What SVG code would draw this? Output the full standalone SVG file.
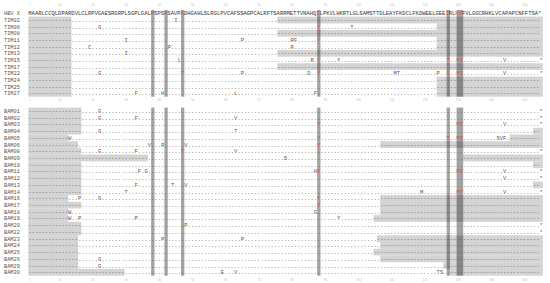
<svg xmlns="http://www.w3.org/2000/svg" width="550" height="283" viewBox="0 0 550 283">
<style>
.s{font-family:"Liberation Mono","DejaVu Sans Mono",monospace;font-size:5.53px;fill:#555}
.h{font-family:"Liberation Mono","DejaVu Sans Mono",monospace;font-size:5.53px;fill:#333}
.l{font-family:"Liberation Mono","DejaVu Sans Mono",monospace;font-size:5.3px;fill:#555}
.r{fill:#e0403c}
.t{font-family:"Liberation Sans",Arial,sans-serif;font-size:3px;fill:#bbb;text-anchor:middle}
.g{fill:#d4d4d4}
.b{fill:#000;fill-opacity:0.36}
</style>
<rect width="550" height="283" fill="#fff"/>
<g id="ticks">
<text class="t" y="6"><tspan x="29.96">1</tspan><tspan x="59.84">10</tspan><tspan x="93.04">20</tspan><tspan x="126.24">30</tspan><tspan x="159.44">40</tspan><tspan x="192.64">50</tspan><tspan x="225.84">60</tspan><tspan x="259.04">70</tspan><tspan x="292.24">80</tspan><tspan x="325.44">90</tspan><tspan x="358.64">100</tspan><tspan x="391.84">110</tspan><tspan x="425.04">120</tspan><tspan x="458.24">130</tspan><tspan x="491.44">140</tspan><tspan x="524.64">150</tspan></text>
<text class="t" y="100.5"><tspan x="29.96">1</tspan><tspan x="59.84">10</tspan><tspan x="93.04">20</tspan><tspan x="126.24">30</tspan><tspan x="159.44">40</tspan><tspan x="192.64">50</tspan><tspan x="225.84">60</tspan><tspan x="259.04">70</tspan><tspan x="292.24">80</tspan><tspan x="325.44">90</tspan><tspan x="358.64">100</tspan><tspan x="391.84">110</tspan><tspan x="425.04">120</tspan><tspan x="458.24">130</tspan><tspan x="491.44">140</tspan><tspan x="524.64">150</tspan></text>
<text class="t" y="280.5"><tspan x="29.96">1</tspan><tspan x="59.84">10</tspan><tspan x="93.04">20</tspan><tspan x="126.24">30</tspan><tspan x="159.44">40</tspan><tspan x="192.64">50</tspan><tspan x="225.84">60</tspan><tspan x="259.04">70</tspan><tspan x="292.24">80</tspan><tspan x="325.44">90</tspan><tspan x="358.64">100</tspan><tspan x="391.84">110</tspan><tspan x="425.04">120</tspan><tspan x="458.24">130</tspan><tspan x="491.44">140</tspan><tspan x="524.64">150</tspan></text>
</g>
<g id="gaps">
<rect class="g" x="28.3" y="16.6" width="43.16" height="80.1"/>
<rect class="g" x="277.3" y="16.6" width="265.6" height="6.8"/>
<rect class="g" x="436.66" y="23.2" width="106.24" height="6.8"/>
<rect class="g" x="277.3" y="29.9" width="265.6" height="6.8"/>
<rect class="g" x="436.66" y="36.6" width="106.24" height="6.8"/>
<rect class="g" x="436.66" y="43.2" width="106.24" height="6.8"/>
<rect class="g" x="277.3" y="49.9" width="265.6" height="6.8"/>
<rect class="g" x="277.3" y="63.2" width="265.6" height="6.8"/>
<rect class="g" x="436.66" y="76.6" width="106.24" height="20.1"/>
<rect class="g" x="28.3" y="107.6" width="53.12" height="27"/>
<rect class="g" x="28.3" y="134.5" width="39.84" height="6.8"/>
<rect class="g" x="28.3" y="141.2" width="49.8" height="6.8"/>
<rect class="g" x="28.3" y="147.9" width="53.12" height="6.8"/>
<rect class="g" x="28.3" y="154.6" width="119.52" height="6.8"/>
<rect class="g" x="28.3" y="161.4" width="53.12" height="33.7"/>
<rect class="g" x="28.3" y="195.0" width="39.84" height="6.8"/>
<rect class="g" x="28.3" y="201.7" width="53.12" height="6.8"/>
<rect class="g" x="28.3" y="208.4" width="39.84" height="13.5"/>
<rect class="g" x="28.3" y="221.8" width="53.12" height="13.6"/>
<rect class="g" x="28.3" y="235.3" width="49.8" height="33.7"/>
<rect class="g" x="28.3" y="268.9" width="96.28" height="6.8"/>
<rect class="g" x="532.94" y="127.8" width="9.96" height="6.8"/>
<rect class="g" x="509.7" y="134.5" width="33.2" height="6.8"/>
<rect class="g" x="380.22" y="141.2" width="162.68" height="6.8"/>
<rect class="g" x="463.22" y="154.6" width="79.68" height="6.8"/>
<rect class="g" x="532.94" y="161.4" width="9.96" height="6.8"/>
<rect class="g" x="532.94" y="181.5" width="9.96" height="6.8"/>
<rect class="g" x="380.22" y="195.0" width="162.68" height="20.2"/>
<rect class="g" x="373.58" y="215.1" width="169.32" height="6.8"/>
<rect class="g" x="376.9" y="235.3" width="166.0" height="6.8"/>
<rect class="g" x="380.22" y="242.0" width="162.68" height="6.8"/>
<rect class="g" x="373.58" y="248.7" width="169.32" height="6.8"/>
<rect class="g" x="380.22" y="255.4" width="162.68" height="6.8"/>
<rect class="g" x="443.3" y="262.2" width="99.6" height="6.8"/>
<rect class="g" x="449.94" y="268.9" width="92.96" height="6.8"/>
</g>
<g id="columns">
<rect class="b" x="151.14" y="9.9" width="3.32" height="86.8"/>
<rect class="b" x="164.42" y="9.9" width="3.32" height="86.8"/>
<rect class="b" x="181.02" y="9.9" width="3.32" height="86.8"/>
<rect class="b" x="317.14" y="9.9" width="3.32" height="86.8"/>
<rect class="b" x="446.62" y="9.9" width="3.32" height="86.8"/>
<rect class="b" x="456.58" y="9.9" width="6.64" height="86.8"/>
<rect class="b" x="151.14" y="107.6" width="3.32" height="168.1"/>
<rect class="b" x="164.42" y="107.6" width="3.32" height="168.1"/>
<rect class="b" x="181.02" y="107.6" width="3.32" height="168.1"/>
<rect class="b" x="317.14" y="107.6" width="3.32" height="168.1"/>
<rect class="b" x="446.62" y="107.6" width="3.32" height="168.1"/>
<rect class="b" x="456.58" y="107.6" width="6.64" height="168.1"/>
</g>
<g id="HBVX" transform="translate(0,13.3)"><text class="l" x="4" y="1.9">HBV X</text><text class="h" x="28.3" y="1.9">MAARLCCQLDPARDVLCLRPVGAESRGRPLSGPLGAL<tspan class="r">P</tspan>SPS<tspan class="r">P</tspan>SAVP<tspan class="r">A</tspan>DHGAHLSLRGLPVCAFSSAGPCALRFTSARRMETTVNAHQ<tspan class="r">I</tspan>LPKVLHKRTLGLSAMSTTDLEAYFKDCLFKDWEELGEE<tspan class="r">I</tspan>RL<tspan class="r">KV</tspan>FVLGGCRHKLVCAPAPCNFFTSA*</text></g>
<g id="TIM02" transform="translate(0,20.0)"><text class="l" x="4" y="1.9">TIM02</text><text class="s" y="1.9"><tspan x="28.3">-------------.......</tspan><tspan x="94.7">....................</tspan><tspan x="161.1">....I.....</tspan><tspan x="194.3">....................</tspan><tspan x="260.7">.....-----</tspan><tspan x="293.9">----------------------------------------------------------------------</tspan><tspan x="526.3">----</tspan></text></g>
<g id="TIM06" transform="translate(0,26.6)"><text class="l" x="4" y="1.9">TIM06</text><text class="s" y="1.9"><tspan x="28.3">-------------.......</tspan><tspan x="94.7">.G........</tspan><tspan x="127.9">..................................................</tspan><tspan x="293.9">.......<tspan class="r">Y</tspan>..</tspan><tspan x="327.1">.......T..</tspan><tspan x="360.3">....................</tspan><tspan x="426.7">...-------</tspan><tspan x="459.9">------------------------</tspan></text></g>
<g id="TIM08" transform="translate(0,33.3)"><text class="l" x="4" y="1.9">TIM08</text><text class="s" y="1.9"><tspan x="28.3">-------------.......</tspan><tspan x="94.7">..................................................</tspan><tspan x="260.7">.....-----</tspan><tspan x="293.9">----------------------------------------------------------------------</tspan><tspan x="526.3">----</tspan></text></g>
<g id="TIM11" transform="translate(0,40.0)"><text class="l" x="4" y="1.9">TIM11</text><text class="s" y="1.9"><tspan x="28.3">-------------.......</tspan><tspan x="94.7">.........I</tspan><tspan x="127.9">..............................</tspan><tspan x="227.5">....P.....</tspan><tspan x="260.7">.........R</tspan><tspan x="293.9">F......<tspan class="r">Y</tspan>..</tspan><tspan x="327.1">..............................</tspan><tspan x="426.7">...-------</tspan><tspan x="459.9">------------------------</tspan></text></g>
<g id="TIM12" transform="translate(0,46.6)"><text class="l" x="4" y="1.9">TIM12</text><text class="s" y="1.9"><tspan x="28.3">-------------.....C.</tspan><tspan x="94.7">....................</tspan><tspan x="161.1">..P.......</tspan><tspan x="194.3">....................</tspan><tspan x="260.7">.........R</tspan><tspan x="293.9">........................................</tspan><tspan x="426.7">...-------</tspan><tspan x="459.9">------------------------</tspan></text></g>
<g id="TIM13" transform="translate(0,53.3)"><text class="l" x="4" y="1.9">TIM13</text><text class="s" y="1.9"><tspan x="28.3">-------------.......</tspan><tspan x="94.7">.........I</tspan><tspan x="127.9">........................................</tspan><tspan x="260.7">.....-----</tspan><tspan x="293.9">----------------------------------------------------------------------</tspan><tspan x="526.3">----</tspan></text></g>
<g id="TIM15" transform="translate(0,60.0)"><text class="l" x="4" y="1.9">TIM15</text><text class="s" y="1.9"><tspan x="28.3">-------------.......</tspan><tspan x="94.7">....................</tspan><tspan x="161.1">.....L....</tspan><tspan x="194.3">..............................</tspan><tspan x="293.9">.....R.<tspan class="r">Y</tspan>..</tspan><tspan x="327.1">...Y......</tspan><tspan x="360.3">....................</tspan><tspan x="426.7">......<tspan class="r">T</tspan>..<tspan class="r">M</tspan></tspan><tspan x="459.9"><tspan class="r">I</tspan>.........</tspan><tspan x="493.1">...V......</tspan><tspan x="526.3">....*</tspan></text></g>
<g id="TIM17" transform="translate(0,66.6)"><text class="l" x="4" y="1.9">TIM17</text><text class="s" y="1.9"><tspan x="28.3">-------------.......</tspan><tspan x="94.7">..................................................</tspan><tspan x="260.7">.....-----</tspan><tspan x="293.9">----------------------------------------------------------------------</tspan><tspan x="526.3">----</tspan></text></g>
<g id="TIM22" transform="translate(0,73.3)"><text class="l" x="4" y="1.9">TIM22</text><text class="s" y="1.9"><tspan x="28.3">-------------.......</tspan><tspan x="94.7">.G........</tspan><tspan x="127.9">..........</tspan><tspan x="161.1">......<tspan class="r">T</tspan>...</tspan><tspan x="194.3">..........</tspan><tspan x="227.5">....P.....</tspan><tspan x="260.7">..........</tspan><tspan x="293.9">....D..<tspan class="r">Y</tspan>..</tspan><tspan x="327.1">....................</tspan><tspan x="393.5">MT........</tspan><tspan x="426.7">...P..<tspan class="r">S</tspan>..<tspan class="r">M</tspan></tspan><tspan x="459.9"><tspan class="r">I</tspan>.........</tspan><tspan x="493.1">...V......</tspan><tspan x="526.3">....*</tspan></text></g>
<g id="TIM24" transform="translate(0,80.0)"><text class="l" x="4" y="1.9">TIM24</text><text class="s" y="1.9"><tspan x="28.3">-------------.......</tspan><tspan x="94.7">..................................................</tspan><tspan x="260.7">..................................................</tspan><tspan x="426.7">...-------</tspan><tspan x="459.9">------------------------</tspan></text></g>
<g id="TIM25" transform="translate(0,86.6)"><text class="l" x="4" y="1.9">TIM25</text><text class="s" y="1.9"><tspan x="28.3">-------------.......</tspan><tspan x="94.7">..................................................</tspan><tspan x="260.7">..................................................</tspan><tspan x="426.7">...-------</tspan><tspan x="459.9">------------------------</tspan></text></g>
<g id="TIM27" transform="translate(0,93.3)"><text class="l" x="4" y="1.9">TIM27</text><text class="s" y="1.9"><tspan x="28.3">-------------.......</tspan><tspan x="94.7">..........</tspan><tspan x="127.9">..F.......</tspan><tspan x="161.1">H.........</tspan><tspan x="194.3">..........</tspan><tspan x="227.5">..L.......</tspan><tspan x="260.7">..........</tspan><tspan x="293.9">......F...</tspan><tspan x="327.1">..............................</tspan><tspan x="426.7">...-------</tspan><tspan x="459.9">------------------------</tspan></text></g>
<g id="BAM01" transform="translate(0,111.0)"><text class="l" x="4" y="1.9">BAM01</text><text class="s" y="1.9"><tspan x="28.3">----------------....</tspan><tspan x="94.7">.G........</tspan><tspan x="127.9">..................................................</tspan><tspan x="293.9">........................................</tspan><tspan x="426.7">..............................</tspan><tspan x="526.3">....*</tspan></text></g>
<g id="BAM02" transform="translate(0,117.7)"><text class="l" x="4" y="1.9">BAM02</text><text class="s" y="1.9"><tspan x="28.3">----------------....</tspan><tspan x="94.7">.G........</tspan><tspan x="127.9">..F.......</tspan><tspan x="161.1">....................</tspan><tspan x="227.5">..V.......</tspan><tspan x="260.7">........................................</tspan><tspan x="393.5">........................................</tspan><tspan x="526.3">....*</tspan></text></g>
<g id="BAM03" transform="translate(0,124.4)"><text class="l" x="4" y="1.9">BAM03</text><text class="s" y="1.9"><tspan x="28.3">----------------....</tspan><tspan x="94.7">..............................</tspan><tspan x="194.3">..............................</tspan><tspan x="293.9">.......<tspan class="r">Y</tspan>..</tspan><tspan x="327.1">..............................</tspan><tspan x="426.7">.........<tspan class="r">M</tspan></tspan><tspan x="459.9"><tspan class="r">I</tspan>.........</tspan><tspan x="493.1">...V......</tspan><tspan x="526.3">....*</tspan></text></g>
<g id="BAM04" transform="translate(0,131.2)"><text class="l" x="4" y="1.9">BAM04</text><text class="s" y="1.9"><tspan x="28.3">----------------....</tspan><tspan x="94.7">.G........</tspan><tspan x="127.9">..............................</tspan><tspan x="227.5">..T.......</tspan><tspan x="260.7">........................................</tspan><tspan x="393.5">........................................</tspan><tspan x="526.3">..--</tspan></text></g>
<g id="BAM05" transform="translate(0,137.9)"><text class="l" x="4" y="1.9">BAM05</text><text class="s" y="1.9"><tspan x="28.3">------------W.......</tspan><tspan x="94.7">..............................</tspan><tspan x="194.3">..............................</tspan><tspan x="293.9">.......<tspan class="r">Y</tspan>..</tspan><tspan x="327.1">..............................</tspan><tspan x="426.7">......<tspan class="r">T</tspan>..<tspan class="r">M</tspan></tspan><tspan x="459.9"><tspan class="r">I</tspan>.........</tspan><tspan x="493.1">.SVF.-----</tspan><tspan x="526.3">----</tspan></text></g>
<g id="BAM06" transform="translate(0,144.6)"><text class="l" x="4" y="1.9">BAM06</text><text class="s" y="1.9"><tspan x="28.3">---------------.....</tspan><tspan x="94.7">..........</tspan><tspan x="127.9">......V...</tspan><tspan x="161.1">R......V..</tspan><tspan x="194.3">..............................</tspan><tspan x="293.9">.......<tspan class="r">Y</tspan>..</tspan><tspan x="327.1">..........</tspan><tspan x="360.3">......----</tspan><tspan x="393.5">----------------------------------------</tspan><tspan x="526.3">----</tspan></text></g>
<g id="BAM08" transform="translate(0,151.3)"><text class="l" x="4" y="1.9">BAM08</text><text class="s" y="1.9"><tspan x="28.3">----------------....</tspan><tspan x="94.7">.G........</tspan><tspan x="127.9">..F.......</tspan><tspan x="161.1">......<tspan class="r">T</tspan>...</tspan><tspan x="194.3">..........</tspan><tspan x="227.5">..V.......</tspan><tspan x="260.7">........................................</tspan><tspan x="393.5">........................................</tspan><tspan x="526.3">....*</tspan></text></g>
<g id="BAM09" transform="translate(0,158.0)"><text class="l" x="4" y="1.9">BAM09</text><text class="s" y="1.9"><tspan x="28.3">------------------------------</tspan><tspan x="127.9">------....</tspan><tspan x="161.1">..............................</tspan><tspan x="260.7">.......S..</tspan><tspan x="293.9">..................................................</tspan><tspan x="459.9">.---------</tspan><tspan x="493.1">----------</tspan><tspan x="526.3">----</tspan></text></g>
<g id="BAM10" transform="translate(0,164.8)"><text class="l" x="4" y="1.9">BAM10</text><text class="s" y="1.9"><tspan x="28.3">----------------....</tspan><tspan x="94.7">..................................................</tspan><tspan x="260.7">........................................</tspan><tspan x="393.5">........................................</tspan><tspan x="526.3">..--</tspan></text></g>
<g id="BAM11" transform="translate(0,171.5)"><text class="l" x="4" y="1.9">BAM11</text><text class="s" y="1.9"><tspan x="28.3">----------------....</tspan><tspan x="94.7">..........</tspan><tspan x="127.9">...F.G....</tspan><tspan x="161.1">........................................</tspan><tspan x="293.9">......H<tspan class="r">Y</tspan>..</tspan><tspan x="327.1">..............................</tspan><tspan x="426.7">.........<tspan class="r">M</tspan></tspan><tspan x="459.9"><tspan class="r">I</tspan>.........</tspan><tspan x="493.1">...V......</tspan><tspan x="526.3">....*</tspan></text></g>
<g id="BAM12" transform="translate(0,178.2)"><text class="l" x="4" y="1.9">BAM12</text><text class="s" y="1.9"><tspan x="28.3">----------------....</tspan><tspan x="94.7">..................................................</tspan><tspan x="260.7">..................................................</tspan><tspan x="426.7">....................</tspan><tspan x="493.1">...V......</tspan><tspan x="526.3">....*</tspan></text></g>
<g id="BAM13" transform="translate(0,184.9)"><text class="l" x="4" y="1.9">BAM13</text><text class="s" y="1.9"><tspan x="28.3">----------------....</tspan><tspan x="94.7">..........</tspan><tspan x="127.9">..F.......</tspan><tspan x="161.1">...T...V..</tspan><tspan x="194.3">..................................................</tspan><tspan x="360.3">..................................................</tspan><tspan x="526.3">..--</tspan></text></g>
<g id="BAM14" transform="translate(0,191.6)"><text class="l" x="4" y="1.9">BAM14</text><text class="s" y="1.9"><tspan x="28.3">----------------....</tspan><tspan x="94.7">.........T</tspan><tspan x="127.9">........................................</tspan><tspan x="260.7">........................................</tspan><tspan x="393.5">........M.</tspan><tspan x="426.7">.........<tspan class="r">M</tspan></tspan><tspan x="459.9"><tspan class="r">T</tspan>.........</tspan><tspan x="493.1">...V......</tspan><tspan x="526.3">....*</tspan></text></g>
<g id="BAM16" transform="translate(0,198.4)"><text class="l" x="4" y="1.9">BAM16</text><text class="s" y="1.9"><tspan x="28.3">------------...P....</tspan><tspan x="94.7">.G........</tspan><tspan x="127.9">..................................................</tspan><tspan x="293.9">.......<tspan class="r">Y</tspan>..</tspan><tspan x="327.1">..........</tspan><tspan x="360.3">......----</tspan><tspan x="393.5">----------------------------------------</tspan><tspan x="526.3">----</tspan></text></g>
<g id="BAM17" transform="translate(0,205.1)"><text class="l" x="4" y="1.9">BAM17</text><text class="s" y="1.9"><tspan x="28.3">----------------....</tspan><tspan x="94.7">..............................</tspan><tspan x="194.3">..............................</tspan><tspan x="293.9">.......<tspan class="r">Y</tspan>..</tspan><tspan x="327.1">..........</tspan><tspan x="360.3">......----</tspan><tspan x="393.5">----------------------------------------</tspan><tspan x="526.3">----</tspan></text></g>
<g id="BAM18" transform="translate(0,211.8)"><text class="l" x="4" y="1.9">BAM18</text><text class="s" y="1.9"><tspan x="28.3">------------W.......</tspan><tspan x="94.7">..............................</tspan><tspan x="194.3">..............................</tspan><tspan x="293.9">......G...</tspan><tspan x="327.1">..........</tspan><tspan x="360.3">......----</tspan><tspan x="393.5">----------------------------------------</tspan><tspan x="526.3">----</tspan></text></g>
<g id="BAM19" transform="translate(0,218.5)"><text class="l" x="4" y="1.9">BAM19</text><text class="s" y="1.9"><tspan x="28.3">------------W..P....</tspan><tspan x="94.7">..........</tspan><tspan x="127.9">..P.......</tspan><tspan x="161.1">..................................................</tspan><tspan x="327.1">...Y......</tspan><tspan x="360.3">....------</tspan><tspan x="393.5">----------------------------------------</tspan><tspan x="526.3">----</tspan></text></g>
<g id="BAM20" transform="translate(0,225.2)"><text class="l" x="4" y="1.9">BAM20</text><text class="s" y="1.9"><tspan x="28.3">----------------....</tspan><tspan x="94.7">....................</tspan><tspan x="161.1">.......P..</tspan><tspan x="194.3">..................................................</tspan><tspan x="360.3">..................................................</tspan><tspan x="526.3">....*</tspan></text></g>
<g id="BAM22" transform="translate(0,232.0)"><text class="l" x="4" y="1.9">BAM22</text><text class="s" y="1.9"><tspan x="28.3">----------------....</tspan><tspan x="94.7">..................................................</tspan><tspan x="260.7">..................................................</tspan><tspan x="426.7">..............................</tspan><tspan x="526.3">....*</tspan></text></g>
<g id="BAM23" transform="translate(0,238.7)"><text class="l" x="4" y="1.9">BAM23</text><text class="s" y="1.9"><tspan x="28.3">---------------.....</tspan><tspan x="94.7">....................</tspan><tspan x="161.1">P.........</tspan><tspan x="194.3">..........</tspan><tspan x="227.5">....P.....</tspan><tspan x="260.7">..............................</tspan><tspan x="360.3">.....-----</tspan><tspan x="393.5">----------------------------------------</tspan><tspan x="526.3">----</tspan></text></g>
<g id="BAM24" transform="translate(0,245.4)"><text class="l" x="4" y="1.9">BAM24</text><text class="s" y="1.9"><tspan x="28.3">---------------.....</tspan><tspan x="94.7">........................................</tspan><tspan x="227.5">........................................</tspan><tspan x="360.3">......----</tspan><tspan x="393.5">----------------------------------------</tspan><tspan x="526.3">----</tspan></text></g>
<g id="BAM25" transform="translate(0,252.1)"><text class="l" x="4" y="1.9">BAM25</text><text class="s" y="1.9"><tspan x="28.3">---------------.....</tspan><tspan x="94.7">........................................</tspan><tspan x="227.5">........................................</tspan><tspan x="360.3">....------</tspan><tspan x="393.5">----------------------------------------</tspan><tspan x="526.3">----</tspan></text></g>
<g id="BAM26" transform="translate(0,258.8)"><text class="l" x="4" y="1.9">BAM26</text><text class="s" y="1.9"><tspan x="28.3">---------------.....</tspan><tspan x="94.7">.G........</tspan><tspan x="127.9">........................................</tspan><tspan x="260.7">..............................</tspan><tspan x="360.3">......----</tspan><tspan x="393.5">----------------------------------------</tspan><tspan x="526.3">----</tspan></text></g>
<g id="BAM29" transform="translate(0,265.6)"><text class="l" x="4" y="1.9">BAM29</text><text class="s" y="1.9"><tspan x="28.3">---------------.....</tspan><tspan x="94.7">.G........</tspan><tspan x="127.9">..................................................</tspan><tspan x="293.9">........................................</tspan><tspan x="426.7">.....-----</tspan><tspan x="459.9">--------------------</tspan><tspan x="526.3">----</tspan></text></g>
<g id="BAM30" transform="translate(0,272.3)"><text class="l" x="4" y="1.9">BAM30</text><text class="s" y="1.9"><tspan x="28.3">--------------------</tspan><tspan x="94.7">---------.</tspan><tspan x="127.9">....................</tspan><tspan x="194.3">........E.</tspan><tspan x="227.5">..V.......</tspan><tspan x="260.7">..................................................</tspan><tspan x="426.7">...TS..---</tspan><tspan x="459.9">--------------------</tspan><tspan x="526.3">----</tspan></text></g>
</svg>
